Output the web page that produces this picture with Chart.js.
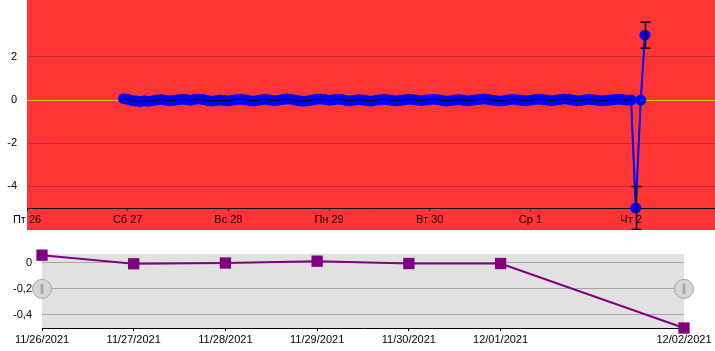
<!DOCTYPE html>
<html>
<head>
<meta charset="utf-8">
<script src="https://cdn.jsdelivr.net/npm/chart.js@4"></script>
<style>
html,body{margin:0;padding:0;background:#fff;}
#wrap{position:relative;width:715px;height:351px;overflow:hidden;}
#top{position:absolute;left:0;top:0;}
#bot{position:absolute;left:0;top:240px;}
</style>
</head>
<body>
<div id="wrap">
<canvas id="top" width="715" height="230"></canvas>
<canvas id="bot" width="715" height="111"></canvas>
</div>
<script>
// ---- Top chart data (x in hours from Пт 26 00:00) ----
const dayLabels = ['Пт 26', 'Сб 27', 'Вс 28', 'Пн 29', 'Вт 30', 'Ср 1', 'Чт 2'];
const dayTickHours = [0, 24, 48, 72, 96, 120, 144];
const topYTicks = [-4, -2, 0, 2];
const flatStartHour = 23;
const flatValues = [
  0.06,0.03,-0.02,-0.05,-0.07,-0.04,-0.06,-0.03,0.0,0.02,
  -0.01,-0.04,-0.02,0.01,0.04,0.02,-0.01,0.03,0.05,0.02,
  -0.02,-0.05,-0.03,0.0,-0.02,-0.04,-0.01,0.02,0.04,0.01,
  -0.03,-0.05,-0.02,0.01,0.03,0.0,-0.03,-0.01,0.02,0.05,
  0.03,-0.01,-0.04,-0.06,-0.03,0.0,0.03,0.05,0.02,-0.01,
  0.01,0.04,0.02,-0.02,-0.04,-0.01,0.02,0.0,-0.03,-0.05,
  -0.02,0.01,0.03,0.01,-0.02,-0.04,-0.02,0.01,0.04,0.02,
  -0.01,-0.03,0.0,0.02,0.04,0.01,-0.02,-0.05,-0.03,0.0,
  0.02,-0.01,-0.04,-0.02,0.01,0.03,0.05,0.02,-0.01,-0.03,
  -0.05,-0.02,0.01,0.03,0.0,-0.02,-0.04,-0.01,0.02,0.04,
  0.02,-0.01,-0.03,-0.01,0.02,0.05,0.03,0.0,-0.03,-0.02,
  0.01,0.03,0.01,-0.02,-0.04,-0.02,0.0,0.02,0.04,0.02,
  0.0,0.0
];
const spikeHours = [145.1, 146.3, 147.3];
const spikeValues = [-5, 0, 3];
const spikeErrors = [1, 0, 0.6];

// ---- Bottom chart data ----
const dateLabels = ['11/26/2021','11/27/2021','11/28/2021','11/29/2021','11/30/2021','12/01/2021','12/02/2021'];
const datePositions = [0, 1, 2, 3, 4, 5, 7];
const dailyValues = [0.058, -0.008, -0.002, 0.012, -0.006, -0.006, -0.5];
const botYTicks = [-0.4, -0.2, 0];

Chart.defaults.font.family = '"Liberation Sans", Arial, sans-serif';
Chart.defaults.font.size = 11;
Chart.defaults.color = '#000';

const flatPts = flatValues.map((v, i) => ({x: flatStartHour + i, y: v}));
const spikePts = spikeValues.map((v, i) => ({x: spikeHours[i], y: v, e: spikeErrors[i]}));

const noPadV = s => { s.paddingTop = 0; s.paddingBottom = 0; };
const noPadH = s => { s.paddingLeft = 0; s.paddingRight = 0; };

const topBg = {
  id: 'topBg',
  beforeDraw(chart) {
    const {ctx, chartArea} = chart;
    ctx.save();
    ctx.fillStyle = '#ff3535';
    ctx.fillRect(chartArea.left, 0, chart.width - chartArea.left, chart.height);
    ctx.restore();
  }
};
const errBars = {
  id: 'errBars',
  afterDatasetsDraw(chart) {
    const {ctx, scales} = chart;
    ctx.save();
    ctx.strokeStyle = '#000';
    ctx.lineWidth = 1.5;
    spikePts.forEach(p => {
      if (!p.e) return;
      const x = Math.round(scales.x.getPixelForValue(p.x)) + 0.5;
      const y1 = scales.y.getPixelForValue(p.y - p.e);
      const y2 = scales.y.getPixelForValue(p.y + p.e);
      ctx.beginPath();
      ctx.moveTo(x, y1); ctx.lineTo(x, y2);
      ctx.moveTo(x - 5, y1); ctx.lineTo(x + 5, y1);
      ctx.moveTo(x - 5, y2); ctx.lineTo(x + 5, y2);
      ctx.stroke();
    });
    ctx.restore();
  }
};

new Chart(document.getElementById('top'), {
  type: 'line',
  data: {
    datasets: [
      {
        data: flatPts,
        borderColor: '#000',
        borderWidth: 1,
        pointRadius: 0,
        order: 0,
        clip: false
      },
      {
        data: flatPts.concat(spikePts),
        borderColor: '#0000ff',
        backgroundColor: '#0000ff',
        borderWidth: 2,
        pointRadius: 5.5,
        pointBorderWidth: 0,
        order: 1,
        clip: false
      }
    ]
  },
  options: {
    responsive: false,
    devicePixelRatio: 1,
    animation: false,
    events: [],
    layout: {padding: 0, autoPadding: false},
    plugins: {legend: {display: false}, tooltip: {enabled: false}},
    scales: {
      x: {
        type: 'linear',
        min: 0,
        max: 164,
        afterBuildTicks: s => { s.ticks = dayTickHours.map(v => ({value: v})); },
        afterFit: s => { s.height = 22; noPadH(s); },
        ticks: {
          autoSkip: false, maxRotation: 0, padding: 2,
          callback: (v) => dayLabels[dayTickHours.indexOf(v)]
        },
        grid: {drawOnChartArea: false, drawTicks: true, tickLength: 3, color: '#000'},
        border: {display: true, color: '#000', width: 1}
      },
      y: {
        min: -5,
        max: 4.63,
        afterBuildTicks: s => { s.ticks = topYTicks.map(v => ({value: v})); },
        afterFit: s => { s.width = 27; noPadV(s); },
        ticks: {padding: 10, callback: v => String(v)},
        grid: {
          drawTicks: false,
          color: c => (c.tick && c.tick.value === 0) ? '#c4d600' : '#c42a2a',
          lineWidth: 1
        },
        border: {display: false}
      }
    }
  },
  plugins: [topBg, errBars]
});

const botBg = {
  id: 'botBg',
  beforeDraw(chart) {
    const {ctx, chartArea} = chart;
    ctx.save();
    ctx.fillStyle = '#e1e1e1';
    ctx.fillRect(chartArea.left, chartArea.top, chartArea.right - chartArea.left, chartArea.bottom - chartArea.top);
    ctx.restore();
  }
};
const handles = {
  id: 'handles',
  afterDraw(chart) {
    const {ctx, chartArea} = chart;
    const cy = chart.scales.y.getPixelForValue(-0.2);
    [chartArea.left, chartArea.right].forEach(cx => {
      ctx.save();
      ctx.beginPath();
      ctx.arc(cx, cy, 9.5, 0, Math.PI * 2);
      ctx.fillStyle = '#d6d6d6';
      ctx.fill();
      ctx.lineWidth = 1;
      ctx.strokeStyle = '#a4a4a4';
      ctx.stroke();
      ctx.fillStyle = '#a8a8a8';
      ctx.fillRect(cx - 1.5, cy - 5, 3, 10);
      ctx.restore();
    });
  }
};

new Chart(document.getElementById('bot'), {
  type: 'line',
  data: {
    datasets: [{
      data: dailyValues.map((v, i) => ({x: datePositions[i], y: v})),
      borderColor: '#800080',
      backgroundColor: '#800080',
      borderWidth: 2,
      pointStyle: 'rect',
      pointRadius: 8,
      pointBorderWidth: 0,
      clip: false
    }]
  },
  options: {
    responsive: false,
    devicePixelRatio: 1,
    animation: false,
    events: [],
    layout: {padding: {top: 14, right: 31, left: 0, bottom: 0}, autoPadding: false},
    plugins: {legend: {display: false}, tooltip: {enabled: false}},
    scales: {
      x: {
        type: 'linear',
        min: 0,
        max: 7,
        afterBuildTicks: s => { s.ticks = datePositions.map(v => ({value: v})); },
        afterFit: s => { s.height = 23; noPadH(s); },
        ticks: {
          autoSkip: false, maxRotation: 0, padding: 2,
          callback: v => dateLabels[datePositions.indexOf(v)]
        },
        grid: {drawOnChartArea: false, drawTicks: true, tickLength: 3, color: '#000'},
        border: {display: true, color: '#000', width: 1}
      },
      y: {
        min: -0.5,
        max: 0.067,
        afterBuildTicks: s => { s.ticks = botYTicks.map(v => ({value: v})); },
        afterFit: s => { s.width = 42; noPadV(s); },
        ticks: {padding: 10, callback: v => (v === 0 ? '0' : String(v).replace('.', ','))},
        grid: {drawTicks: false, color: '#a6a6a6', lineWidth: 1},
        border: {display: false}
      }
    }
  },
  plugins: [botBg, handles]
});
</script>
</body>
</html>
